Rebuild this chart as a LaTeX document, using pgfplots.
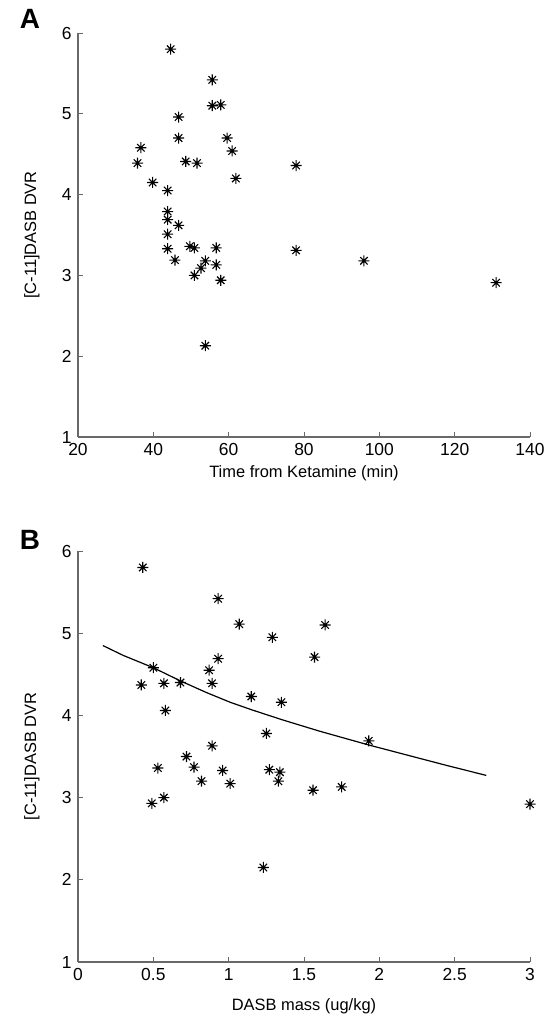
\documentclass[border=0pt]{standalone}
\usepackage{fontspec}
\setmainfont{Liberation Sans}
\usepackage{pgfplots}
\pgfplotsset{compat=1.18}
\definecolor{axgray}{RGB}{105,105,105}
\pgfdeclareplotmark{mstar}{%
 \pgfpathmoveto{\pgfqpoint{-\pgfplotmarksize}{0pt}}\pgfpathlineto{\pgfqpoint{\pgfplotmarksize}{0pt}}%
 \pgfpathmoveto{\pgfqpoint{0pt}{-\pgfplotmarksize}}\pgfpathlineto{\pgfqpoint{0pt}{\pgfplotmarksize}}%
 \pgfpathmoveto{\pgfqpoint{-.68\pgfplotmarksize}{-.68\pgfplotmarksize}}\pgfpathlineto{\pgfqpoint{.68\pgfplotmarksize}{.68\pgfplotmarksize}}%
 \pgfpathmoveto{\pgfqpoint{-.68\pgfplotmarksize}{.68\pgfplotmarksize}}\pgfpathlineto{\pgfqpoint{.68\pgfplotmarksize}{-.68\pgfplotmarksize}}%
 \pgfusepathqstroke}
\pgfplotsset{
  mystyle/.style={
    scale only axis, width=452bp,
    axis x line*=bottom, axis y line*=left,
    axis line style={axgray, line width=1.1bp},
    every tick/.style={axgray, line width=1bp},
    tick align=inside, major tick length=5bp,
    ymin=1, ymax=6, ytick={1,2,3,4,5,6},
    clip=false,
    /pgf/number format/assume math mode=true,
    tick label style={font=\fontsize{17.5}{17.5}\selectfont, black},
    xticklabel style={yshift=-3bp},
    yticklabel style={xshift=-3bp},
    label style={font=\fontsize{16.5}{16.5}\selectfont},
    ylabel={[C-11]DASB DVR},
    ylabel style={at={(axis description cs:-0.102,0.5)}, anchor=center, rotate=0},
  },
  pts/.style={only marks, mark=mstar, mark size=5.5bp, black, mark options={line width=1.1bp}},
}
\begin{document}
\begin{tikzpicture}
\begin{axis}[mystyle, at={(78bp,-437bp)}, anchor=south west, height=404bp,
  xmin=20, xmax=140, xtick={20,40,...,140},
  xlabel={Time from Ketamine (min)},
  xlabel style={at={(axis description cs:0.5,-0.09)}, anchor=center}]
\addplot[pts] table {
x y
44.6 5.80
55.65 5.42
55.65 5.10
57.9 5.11
46.7 4.96
46.7 4.70
59.6 4.70
60.9 4.54
36.7 4.58
35.8 4.39
48.6 4.41
51.6 4.39
77.9 4.36
61.9 4.20
39.8 4.15
43.8 4.05
43.8 3.79
43.8 3.69
46.7 3.62
43.8 3.51
43.8 3.33
49.7 3.36
50.9 3.34
56.7 3.34
77.9 3.31
45.75 3.19
53.8 3.18
52.65 3.09
56.7 3.13
50.9 3.00
57.9 2.94
53.8 2.13
95.9 3.18
131.0 2.91
};
\end{axis}
\begin{axis}[mystyle, at={(78bp,-962bp)}, anchor=south west, height=411bp,
  xmin=0, xmax=3, xtick={0,0.5,1,1.5,2,2.5,3},
  xlabel={DASB mass (ug/kg)},
  xlabel style={at={(axis description cs:0.5,-0.108)}, anchor=center}]
\addplot[pts] table {
x y
0.43 5.80
0.93 5.42
1.07 5.11
1.29 4.95
1.57 4.71
0.93 4.69
0.50 4.58
0.87 4.55
0.42 4.37
0.57 4.39
0.68 4.40
0.89 4.39
1.15 4.23
1.35 4.16
0.58 4.06
1.25 3.78
0.89 3.63
0.72 3.50
0.53 3.36
0.77 3.37
0.96 3.33
1.27 3.34
1.34 3.31
1.33 3.20
0.82 3.20
1.01 3.17
1.56 3.09
0.57 3.00
0.49 2.93
1.23 2.15
1.64 5.10
1.93 3.69
1.75 3.13
3.00 2.92
};
\addplot[black, line width=1.2bp, no marks] table {
x y
0.165 4.85
0.30 4.73
0.50 4.58
0.68 4.42
0.85 4.28
1.01 4.16
1.15 4.07
1.35 3.95
1.60 3.81
1.93 3.64
2.20 3.51
2.45 3.39
2.71 3.27
};
\end{axis}
\node[font=\bfseries\fontsize{28}{28}\selectfont] at (30bp,-19bp) {A};
\node[font=\bfseries\fontsize{28}{28}\selectfont] at (30bp,-540bp) {B};
\pgfresetboundingbox
\path[use as bounding box] (0bp,0bp) rectangle (555bp,-1019bp);
\end{tikzpicture}
\end{document}
